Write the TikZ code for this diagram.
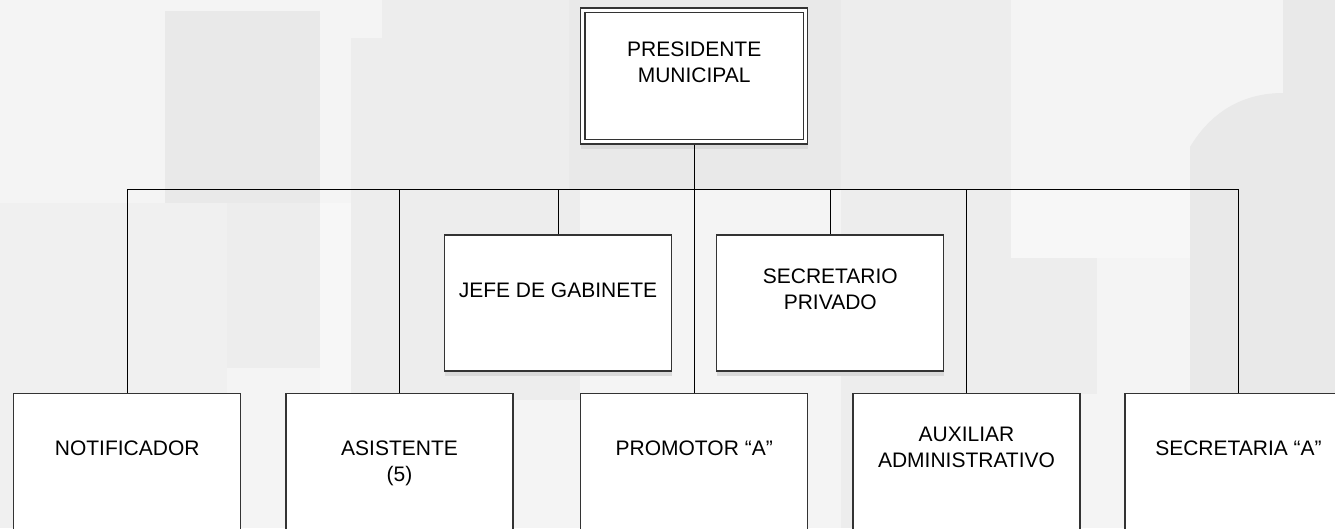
\documentclass[tikz,border=0pt]{standalone}
\usepackage{fontspec}
\setmainfont{Liberation Sans}
\usetikzlibrary{shadows}
\definecolor{bgbase}{HTML}{F4F4F4}
\definecolor{bgA}{HTML}{E9E9E9}
\definecolor{bgB}{HTML}{EDEDED}
\definecolor{bgC}{HTML}{F0F0F0}
\definecolor{bgL}{HTML}{F7F7F7}
\definecolor{boxline}{HTML}{333333}
\definecolor{shadowgray}{HTML}{D9D9D9}
\tikzset{
  orgbox/.style={draw=boxline, line width=1.3pt, fill=white, rectangle,
    minimum width=227pt, minimum height=136pt, inner sep=0pt,
    drop shadow={shadow xshift=0pt, shadow yshift=-5pt, fill=shadowgray, opacity=1}},
  boxtext/.style={anchor=north, inner sep=0pt, align=center,
    font=\fontsize{21}{26}\selectfont},
  conn/.style={draw=black, line width=1pt},
}
\begin{document}
\begin{tikzpicture}[x=1pt, y=-1pt]
\useasboundingbox (0,0) rectangle (1335,528);
% background watermark
\fill[bgbase] (0,0) rectangle (1335,528);
\fill[bgC] (0,203) rectangle (227,528);
\fill[bgA] (165,11) rectangle (320,203);
\fill[bgB] (227,203) rectangle (320,368);
\fill[bgL] (320,203) rectangle (351,528);
\fill[bgB] (382,0) rectangle (569,38);
\fill[bgB] (351,38) rectangle (580,400);
\fill[bgA] (569,0) rectangle (841,190);
\fill[bgB] (841,0) rectangle (1011,528);
\fill[bgL] (1011,190) rectangle (1190,258);
\fill[bgB] (1011,258) rectangle (1097,394);
\fill[bgA] (1190,528) -- (1190,147) .. controls (1212,110) and (1245,93) .. (1283,93)
  -- (1283,0) -- (1335,0) -- (1335,528) -- cycle;

% boxes
\node[orgbox] (pres)  at (694.2,76) {};
\draw[draw=boxline, line width=1.3pt] ([shift={(5pt,-5pt)}]pres.north west) rectangle ([shift={(-5pt,5pt)}]pres.south east);
\node[orgbox] (jefe)  at (558,303) {};
\node[orgbox] (secp)  at (830.3,303) {};
\node[orgbox] (notif) at (127.2,461.3) {};
\node[orgbox] (asist) at (399.5,461.3) {};
\node[orgbox] (promo) at (694.2,461.3) {};
\node[orgbox] (aux)   at (966.5,461.3) {};
\node[orgbox] (secA)  at (1238.5,461.3) {};

% texts
\node[boxtext] (tpres)  at (694.2,41.7) {PRESIDENTE\\MUNICIPAL};
\node[boxtext] (tjefe)  at (558,282.3) {JEFE DE GABINETE};
\node[boxtext] (tsecp)  at (830.3,269) {SECRETARIO\\PRIVADO};
\node[boxtext] (tnotif) at (127.2,441) {NOTIFICADOR};
\node[boxtext] (tasist) at (399.5,441) {ASISTENTE\\(5)};
\node[boxtext] (tpromo) at (694.2,440.5) {PROMOTOR “A”};
\node[boxtext] (taux)   at (966.5,427.3) {AUXILIAR\\ADMINISTRATIVO};
\node[boxtext] (tsecA)  at (1238.5,440.7) {SECRETARIA “A”};

% connectors
\coordinate (bus) at (694.2,189.5);
\draw[conn] (pres.south) -- (bus);
\draw[conn] (notif.north) |- (bus) -| (secA.north);
\draw[conn] (asist.north) -- (asist.north |- bus);
\draw[conn] (jefe.north) -- (jefe.north |- bus);
\draw[conn] (promo.north) -- (bus);
\draw[conn] (secp.north) -- (secp.north |- bus);
\draw[conn] (aux.north) -- (aux.north |- bus);
\end{tikzpicture}
\end{document}
